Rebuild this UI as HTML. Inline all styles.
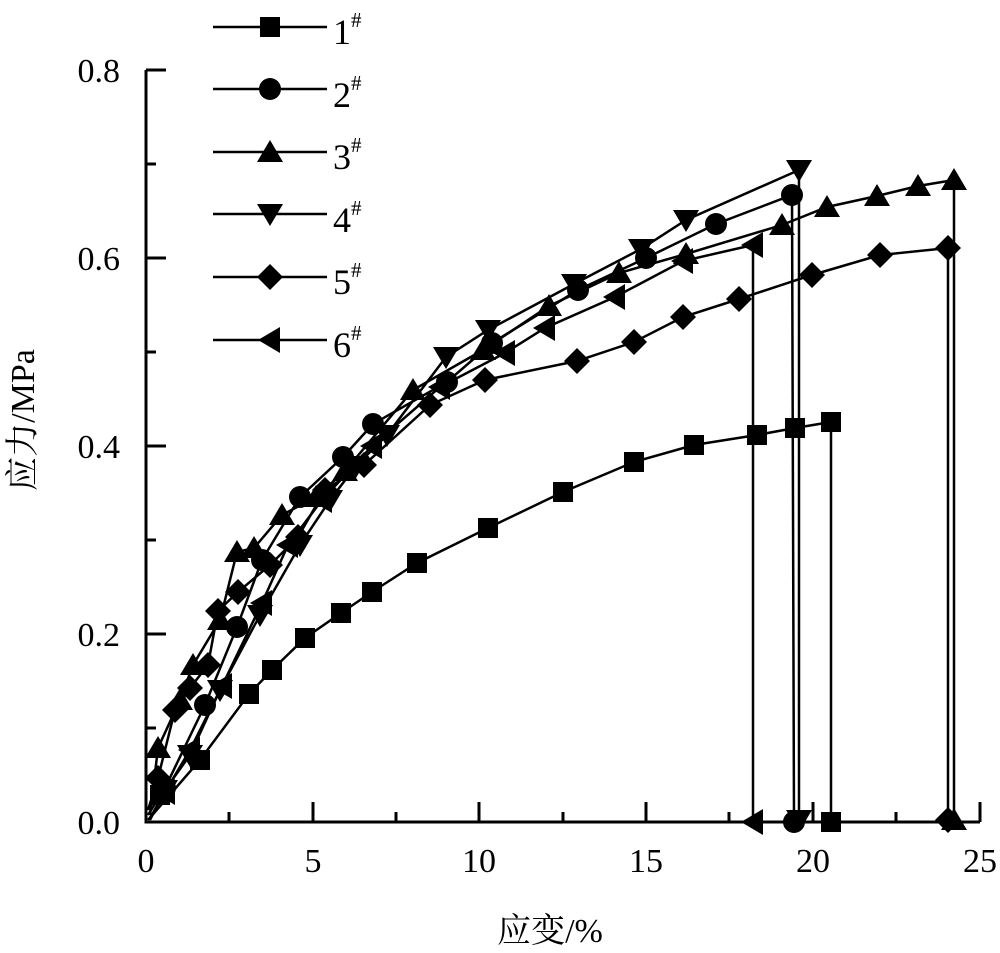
<!DOCTYPE html>
<html><head><meta charset="utf-8"><style>body{margin:0;background:#fff}svg{display:block}</style></head><body>
<svg width="1000" height="953" viewBox="0 0 1000 953" xmlns="http://www.w3.org/2000/svg" font-family="'Liberation Serif', 'Noto Serif CJK SC', serif">
<defs>
<rect id="m1" x="-10" y="-10" width="20" height="20"/>
<circle id="m2" r="11"/>
<polygon id="m3" points="0,-12 13,10 -13,10"/>
<polygon id="m4" points="0,12 13,-10 -13,-10"/>
<polygon id="m5" points="0,-13 13,0 0,13 -13,0"/>
<polygon id="m6" points="-12,0 10,-13 10,13"/>
</defs>
<g stroke="#000" stroke-width="3" fill="none">
<path d="M146,70V822H980"/>
<path d="M146,70h20M146,164h10M146,258h20M146,352h10M146,446h20M146,540h10M146,634h20M146,728h10"/>
<path d="M229,822v-10M313,822v-20M396,822v-10M479,822v-20M563,822v-10M646,822v-20M729,822v-10M813,822v-20M896,822v-10M980,822v-20"/>
</g>
<g font-size="34" text-anchor="end">
<text x="120" y="834">0.0</text><text x="120" y="646">0.2</text><text x="120" y="458">0.4</text><text x="120" y="270">0.6</text><text x="120" y="82">0.8</text>
</g>
<g font-size="34" text-anchor="middle">
<text x="146" y="872">0</text><text x="313" y="872">5</text><text x="479" y="872">10</text><text x="646" y="872">15</text><text x="813" y="872">20</text><text x="980" y="872">25</text>
<text x="550" y="942">应变/%</text>
</g>
<text font-size="34" text-anchor="middle" transform="translate(34,420) rotate(-90)">应力/MPa</text>
<g stroke="#000" stroke-width="2.5" fill="none">
<polyline points="148,820 200,760 249,694 272,670 305,638 341,613 372,592 417,563 488,528 563,492 634,462 694,445 757,435 795,428 831,422 831,822"/>
<polyline points="148,815 165,788 205,705 237,627 262,560 300,497 343,457 373,424 447,382 492,343 578,290 646,258 716,224 792,195 794,822"/>
<polyline points="150,815 158,748 180,700 193,665 220,620 237,552 254,548 282,515 316,497 345,471 413,390 483,350 549,306 619,273 686,254 782,225 827,207 877,196 918,186 954,180 954,822"/>
<polyline points="150,820 165,790 190,755 220,690 260,615 300,545 330,500 356,466 387,435 446,357 488,330 574,284 641,249 686,220 799,170 799,822"/>
<polyline points="148,810 158,778 175,710 190,688 208,665 218,611 238,592 270,565 298,537 325,490 364,465 430,405 485,380 577,361 634,342 683,317 739,299 812,275 880,255 948,248 948,822"/>
<polyline points="150,818 165,792 190,750 222,686 262,603 288,545 322,500 372,446 440,387 505,353 545,328 615,297 683,261 753,245 753,822"/>
</g>
<g fill="#000">
<g><use href="#m1" x="160" y="795"/><use href="#m1" x="200" y="760"/><use href="#m1" x="249" y="694"/><use href="#m1" x="272" y="670"/><use href="#m1" x="305" y="638"/><use href="#m1" x="341" y="613"/><use href="#m1" x="372" y="592"/><use href="#m1" x="417" y="563"/><use href="#m1" x="488" y="528"/><use href="#m1" x="563" y="492"/><use href="#m1" x="634" y="462"/><use href="#m1" x="694" y="445"/><use href="#m1" x="757" y="435"/><use href="#m1" x="795" y="428"/><use href="#m1" x="831" y="422"/><use href="#m1" x="831" y="822"/></g>
<g><use href="#m2" x="165" y="788"/><use href="#m2" x="205" y="705"/><use href="#m2" x="237" y="627"/><use href="#m2" x="262" y="560"/><use href="#m2" x="300" y="497"/><use href="#m2" x="343" y="457"/><use href="#m2" x="373" y="424"/><use href="#m2" x="447" y="382"/><use href="#m2" x="492" y="343"/><use href="#m2" x="578" y="290"/><use href="#m2" x="646" y="258"/><use href="#m2" x="716" y="224"/><use href="#m2" x="792" y="195"/><use href="#m2" x="794" y="822"/></g>
<g><use href="#m3" x="158" y="748"/><use href="#m3" x="180" y="700"/><use href="#m3" x="193" y="665"/><use href="#m3" x="220" y="620"/><use href="#m3" x="237" y="552"/><use href="#m3" x="254" y="548"/><use href="#m3" x="282" y="515"/><use href="#m3" x="316" y="497"/><use href="#m3" x="345" y="471"/><use href="#m3" x="413" y="390"/><use href="#m3" x="483" y="350"/><use href="#m3" x="549" y="306"/><use href="#m3" x="619" y="273"/><use href="#m3" x="686" y="254"/><use href="#m3" x="782" y="225"/><use href="#m3" x="827" y="207"/><use href="#m3" x="877" y="196"/><use href="#m3" x="918" y="186"/><use href="#m3" x="954" y="180"/><use href="#m3" x="954" y="820"/></g>
<g><use href="#m4" x="165" y="790"/><use href="#m4" x="190" y="755"/><use href="#m4" x="220" y="690"/><use href="#m4" x="260" y="615"/><use href="#m4" x="300" y="545"/><use href="#m4" x="330" y="500"/><use href="#m4" x="356" y="466"/><use href="#m4" x="387" y="435"/><use href="#m4" x="446" y="357"/><use href="#m4" x="488" y="330"/><use href="#m4" x="574" y="284"/><use href="#m4" x="641" y="249"/><use href="#m4" x="686" y="220"/><use href="#m4" x="799" y="170"/><use href="#m4" x="799" y="820"/></g>
<g><use href="#m5" x="158" y="778"/><use href="#m5" x="175" y="710"/><use href="#m5" x="190" y="688"/><use href="#m5" x="208" y="665"/><use href="#m5" x="218" y="611"/><use href="#m5" x="238" y="592"/><use href="#m5" x="270" y="565"/><use href="#m5" x="298" y="537"/><use href="#m5" x="325" y="490"/><use href="#m5" x="364" y="465"/><use href="#m5" x="430" y="405"/><use href="#m5" x="485" y="380"/><use href="#m5" x="577" y="361"/><use href="#m5" x="634" y="342"/><use href="#m5" x="683" y="317"/><use href="#m5" x="739" y="299"/><use href="#m5" x="812" y="275"/><use href="#m5" x="880" y="255"/><use href="#m5" x="948" y="248"/><use href="#m5" x="948" y="820"/></g>
<g><use href="#m6" x="165" y="792"/><use href="#m6" x="190" y="750"/><use href="#m6" x="222" y="686"/><use href="#m6" x="262" y="603"/><use href="#m6" x="288" y="545"/><use href="#m6" x="322" y="500"/><use href="#m6" x="372" y="446"/><use href="#m6" x="440" y="387"/><use href="#m6" x="505" y="353"/><use href="#m6" x="545" y="328"/><use href="#m6" x="615" y="297"/><use href="#m6" x="683" y="261"/><use href="#m6" x="753" y="245"/><use href="#m6" x="753" y="822"/></g>
</g>
<g stroke="#000" stroke-width="2.5"><path d="M213,27H327M213,89H327M213,152H327M213,214H327M213,277H327M213,340H327"/></g>
<g fill="#000"><use href="#m1" x="270" y="27"/><use href="#m2" x="270" y="89"/><use href="#m3" x="270" y="152"/><use href="#m4" x="270" y="214"/><use href="#m5" x="270" y="277"/><use href="#m6" x="270" y="340"/></g>
<g font-size="36">
<text x="333" y="44">1<tspan font-size="21" dy="-17">#</tspan></text>
<text x="333" y="107">2<tspan font-size="21" dy="-17">#</tspan></text>
<text x="333" y="169">3<tspan font-size="21" dy="-17">#</tspan></text>
<text x="333" y="232">4<tspan font-size="21" dy="-17">#</tspan></text>
<text x="333" y="294">5<tspan font-size="21" dy="-17">#</tspan></text>
<text x="333" y="357">6<tspan font-size="21" dy="-17">#</tspan></text>
</g>
</svg>
</body></html>
